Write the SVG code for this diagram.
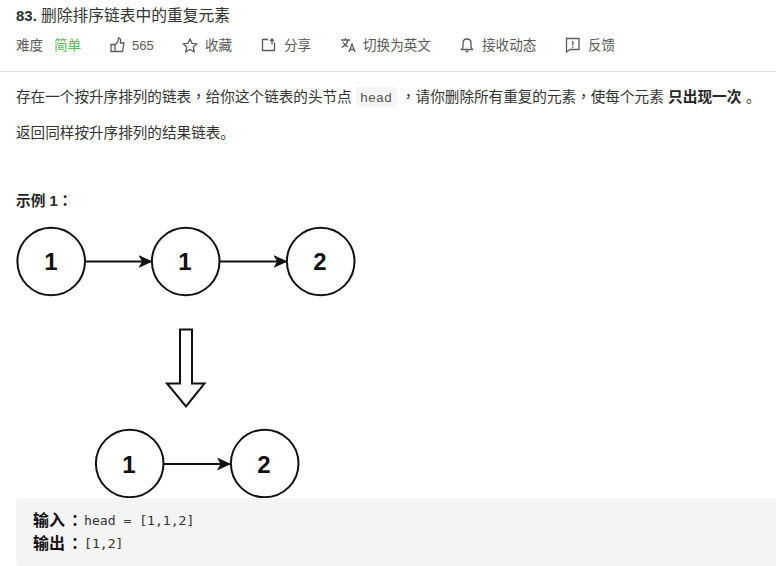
<svg xmlns="http://www.w3.org/2000/svg" width="776" height="566" viewBox="0 0 776 566">
<style>
text{font-family:"Liberation Sans","Noto Sans CJK SC",sans-serif}
.tc{font-family:"Liberation Sans","Noto Sans CJK TC",sans-serif}
.meta{font-size:13.600px;fill:#5a5a5a}
.body{font-size:14.600px;fill:#333}
.strong{font-size:14.700px;font-weight:bold;fill:#262626}
.mono{font-family:"DejaVu Sans Mono","Noto Sans CJK SC",monospace;font-size:13.100px}
.icon{fill:none;stroke:#5a5a5a;stroke-width:1.3}
.node{fill:#fff;stroke:#111;stroke-width:2}
.num{font-size:24px;font-weight:bold;fill:#111;text-anchor:middle}
.edge{stroke:#111;stroke-width:2;fill:none;marker-end:url(#ah)}
</style>
<defs><marker id="ah" markerUnits="userSpaceOnUse" markerWidth="15" markerHeight="15" refX="14" refY="7.500" orient="auto"><path d="M0 1L14 7.500L0 14L3.500 7.500Z" fill="#111"/></marker></defs>
<rect width="776" height="566" fill="#fff"/>
<text x="16" y="21" style="font-size:15px;fill:#333;font-weight:bold">83.</text>
<text x="41" y="21" style="font-size:15.750px;fill:#333">删除排序链表中的重复元素</text>
<text x="16" y="50" class="meta">难度</text>
<text x="54" y="50" class="meta" style="fill:#5cb85c">简单</text>
<path class="icon" d="M111 44.500h4v7h-4zM115 45l3-3.500 0.500-3.500c2 0 2.500 2 2 5h3.500l-1.500 8.500h-7.500"/>
<text x="132" y="50" class="meta" style="font-size:13px">565</text>
<path class="icon" d="M190 39l2 4.300 4.700.6-3.400 3.200.9 4.700-4.200-2.300-4.200 2.300.9-4.700-3.400-3.200 4.700-.6z"/>
<text x="205" y="50" class="meta">收藏</text>
<path class="icon" d="M268 39.500h-5.500v11h12v-8M272 39.500v5M270 41l2-2 2 2"/>
<text x="284" y="50" class="meta">分享</text>
<path class="icon" d="M341 40h9M345.500 38v2M348 40c-1 4-3 6-6.500 7.500M343 42c1 2 3 4 5 5M349 52l3-8 3 8M350 49.500h4"/>
<text x="363" y="50" class="meta">切换为英文</text>
<path class="icon" d="M467 39c-3 0-4 2-4 4v4l-1.500 2.500h11l-1.500-2.500v-4c0-2-1-4-4-4zM465.500 51.500h3"/>
<text x="482" y="50" class="meta">接收动态</text>
<path class="icon" d="M566.500 38.500h12.500v11h-9l-3.500 2.500z"/>
<path d="M572.800 41v4.500M572.800 46.500v1.500" stroke="#5a5a5a" stroke-width="1.300" fill="none"/>
<text x="588" y="50" class="meta">反馈</text>
<rect x="0" y="71" width="776" height="1" fill="#e5e5e5"/>
<text x="16" y="102" class="body">存在一个按升序排列的链表<tspan class="tc">，</tspan>给你这个链表的头节点</text>
<rect x="356" y="87" width="41" height="20" rx="3" fill="#f5f5f5"/>
<text x="360" y="102" style="font-family:'Liberation Mono',monospace;font-size:13.300px;fill:#555">head</text>
<text x="401" y="102" class="body"><tspan class="tc">，</tspan>请你删除所有重复的元素<tspan class="tc">，</tspan>使每个元素</text>
<text x="668" y="102" class="strong">只出现一次</text>
<text x="746" y="102" class="body">。</text>
<text x="16" y="138" class="body">返回同样按升序排列的结果链表。</text>
<text x="16" y="206" class="strong">示例 1<tspan class="tc">：</tspan></text>
<g id="connectors">
<path class="edge" d="M85 261.500H152.500"/>
<path class="edge" d="M219.500 261.500H287.500"/>
<path class="edge" d="M163.500 464H231"/>
</g>
<g id="n1"><circle class="node" cx="51.200" cy="261.500" r="33.800"/><text class="num" x="51" y="270">1</text></g>
<g id="n2"><circle class="node" cx="185.700" cy="261.500" r="33.800"/><text class="num" x="185" y="270">1</text></g>
<g id="n3"><circle class="node" cx="320.700" cy="261.500" r="33.800"/><text class="num" x="320" y="270">2</text></g>
<g id="down"><path d="M180 329.500H192V383.500H204.500L186 406.500L167 383.500H180Z" fill="#fff" stroke="#111" stroke-width="2"/></g>
<g id="n4"><circle class="node" cx="129.700" cy="463.500" r="33.800"/><text class="num" x="129" y="473">1</text></g>
<g id="n5"><circle class="node" cx="264.700" cy="463.500" r="33.800"/><text class="num" x="264" y="473">2</text></g>
<rect x="16" y="498" width="770" height="68" rx="3" fill="#f4f4f4"/>
<text x="33" y="526" style="font-size:16px;font-weight:bold;fill:#111">输入<tspan class="tc" dx="2">：</tspan></text>
<text x="84" y="525" class="mono" style="fill:#333">head = [1,1,2]</text>
<text x="33" y="549" style="font-size:16px;font-weight:bold;fill:#111">输出<tspan class="tc" dx="2">：</tspan></text>
<text x="84" y="548" class="mono" style="fill:#333">[1,2]</text>
</svg>
